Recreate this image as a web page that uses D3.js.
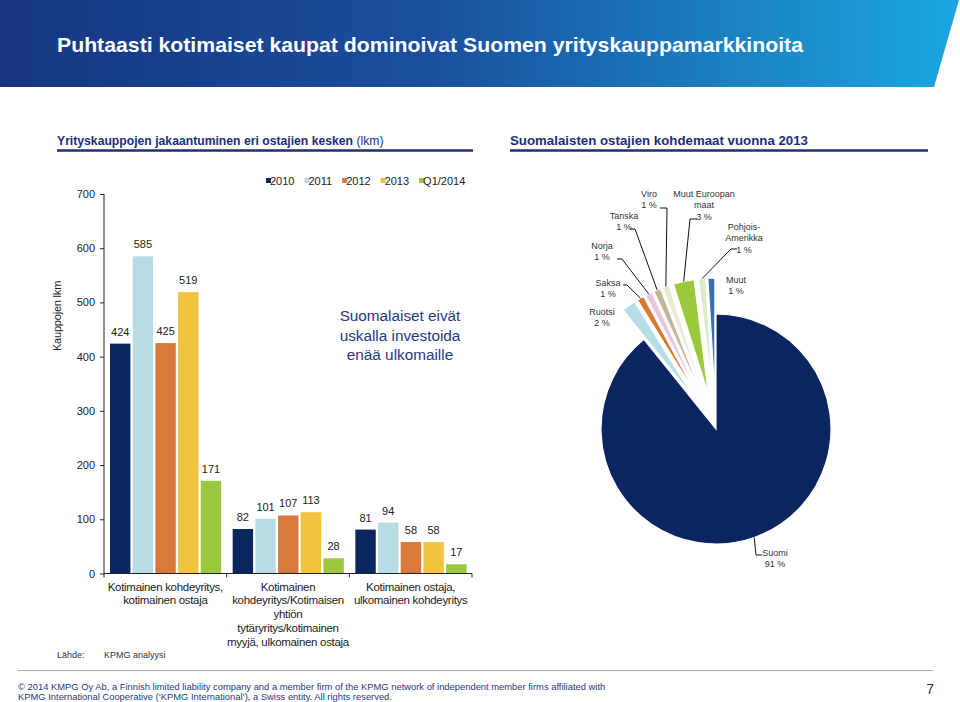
<!DOCTYPE html>
<html>
<head>
<meta charset="utf-8">
<script src="https://cdn.jsdelivr.net/npm/d3@7"></script>
<style>
  html, body { margin: 0; padding: 0; background: #fff; }
  svg { display: block; font-family: "Liberation Sans", Arial, sans-serif; }
</style>
</head>
<body>
<svg id="chart" width="960" height="702"></svg>
<script>
// ---------- DATA ----------
const categories = ["A", "B", "C"];
const categoryLines = [
  ["Kotimainen kohdeyritys,", "kotimainen ostaja"],
  ["Kotimainen", "kohdeyritys/Kotimaisen", "yhtiön", "tytäryritys/kotimainen", "myyjä, ulkomainen ostaja"],
  ["Kotimainen ostaja,", "ulkomainen kohdeyritys"]
];
const seriesNames = ["2010", "2011", "2012", "2013", "Q1/2014"];
const values2010 = [424, 82, 81];
const values2011 = [585, 101, 94];
const values2012 = [425, 107, 58];
const values2013 = [519, 113, 58];
const valuesQ12014 = [171, 28, 17];
const yTicks = [0, 100, 200, 300, 400, 500, 600, 700];

const pieNames = ["Suomi", "Ruotsi", "Saksa", "Norja", "Tanska", "Viro", "Muut Euroopan maat", "Pohjois-Amerikka", "Muut"];
const pieValues = [91, 2, 1, 1, 1, 1, 3, 1, 1];

// ---------- STYLE / LAYOUT ----------
const seriesColors = ["#0b2561", "#b9dce4", "#d97a3c", "#f0c43f", "#9bc83e"];
const pieColors = ["#0b2561", "#b7dde6", "#d9772f", "#e7c4e0", "#c2b497", "#ece8d6", "#9ac93c", "#dcecc8", "#3c6db4"];
const textBlue = "#1c2f7c";

const svg = d3.select("#chart");
const defs = svg.append("defs");
const grad = defs.append("linearGradient").attr("id", "hdr").attr("x1", "0%").attr("x2", "100%").attr("y1", "0%").attr("y2", "0%");
grad.append("stop").attr("offset", "0%").attr("stop-color", "#173680");
grad.append("stop").attr("offset", "45%").attr("stop-color", "#1a4f9d");
grad.append("stop").attr("offset", "100%").attr("stop-color", "#1ba7df");

// Header band
svg.append("path").attr("d", "M0,0 L959,0 L934,87 L0,87 Z").attr("fill", "url(#hdr)");
svg.append("text").attr("x", 57).attr("y", 52)
  .attr("fill", "#fff").attr("font-size", 20.5).attr("font-weight", "bold")
  .attr("textLength", 746).attr("lengthAdjust", "spacingAndGlyphs")
  .text("Puhtaasti kotimaiset kaupat dominoivat Suomen yrityskauppamarkkinoita");

// Section subtitles
const st1 = svg.append("text").attr("x", 57).attr("y", 145).attr("fill", textBlue).attr("font-size", 12.2);
st1.append("tspan").attr("font-weight", "bold").text("Yrityskauppojen jakaantuminen eri ostajien kesken");
st1.append("tspan").text(" (lkm)");
svg.append("line").attr("x1", 57).attr("x2", 473).attr("y1", 150.5).attr("y2", 150.5).attr("stroke", textBlue).attr("stroke-width", 2.5);
svg.append("text").attr("x", 510).attr("y", 145).attr("fill", textBlue).attr("font-size", 13).attr("font-weight", "bold")
  .attr("textLength", 298).attr("lengthAdjust", "spacingAndGlyphs")
  .text("Suomalaisten ostajien kohdemaat vuonna 2013");
svg.append("line").attr("x1", 510).attr("x2", 928).attr("y1", 150.5).attr("y2", 150.5).attr("stroke", textBlue).attr("stroke-width", 2.5);

// ---------- BAR CHART ----------
const seriesValues = [values2010, values2011, values2012, values2013, valuesQ12014];
const y = d3.scaleLinear().domain([0, 700]).range([573.5, 194]);
const x0 = d3.scaleBand().domain(categories).range([104, 472]).paddingInner(0).paddingOuter(0);
const x1 = d3.scaleBand().domain(seriesNames).range([6, x0.bandwidth() - 5.5]).paddingInner(0.1);

const barG = svg.append("g");
categories.forEach((c, ci) => {
  seriesNames.forEach((s, si) => {
    const v = seriesValues[si][ci];
    const bx = x0(c) + x1(s);
    barG.append("rect").attr("x", bx).attr("y", y(v)).attr("width", x1.bandwidth()).attr("height", y(0) - y(v))
      .attr("fill", seriesColors[si]);
    barG.append("text").attr("x", bx + x1.bandwidth() / 2).attr("y", y(v) - 8)
      .attr("text-anchor", "middle").attr("font-size", 11).attr("fill", "#222").text(v);
  });
});

// Y axis
const yAxis = d3.axisLeft(y).tickValues(yTicks).tickSize(4).tickPadding(5);
const yg = svg.append("g").attr("transform", "translate(104,0)").call(yAxis);
yg.select(".domain").attr("stroke", "#222").attr("d", `M0,${y(700)}V${y(0)}`);
yg.selectAll(".tick line").attr("stroke", "#222");
yg.selectAll(".tick text").attr("font-size", 11).attr("fill", "#222").attr("font-family", "Liberation Sans, Arial, sans-serif");

// X axis
const xg = svg.append("g").attr("transform", `translate(0,${y(0)})`);
xg.append("line").attr("x1", 104).attr("x2", 472).attr("stroke", "#222");
[...categories.map(c => x0(c)), 472].forEach(px => {
  xg.append("line").attr("x1", px).attr("x2", px).attr("y1", 0).attr("y2", 4).attr("stroke", "#222");
});
categories.forEach((c, ci) => {
  const t = xg.append("text").attr("text-anchor", "middle").attr("font-size", 11.5).attr("fill", "#222")
    .attr("letter-spacing", "-0.3");
  categoryLines[ci].forEach((ln, li) => {
    t.append("tspan").attr("x", x0(c) + x0.bandwidth() / 2).attr("y", 17 + li * 13.8).text(ln);
  });
});

// Y label
svg.append("text").attr("transform", "translate(61,316) rotate(-90)").attr("text-anchor", "middle")
  .attr("font-size", 11).attr("fill", "#222").attr("letter-spacing", "-0.2").text("Kauppojen lkm");

// Legend
const lg = svg.append("g").attr("transform", "translate(266,181)");
let lx = 0;
seriesNames.forEach((s, i) => {
  lg.append("rect").attr("x", lx).attr("y", -3).attr("width", 5).attr("height", 5).attr("fill", seriesColors[i]);
  const t = lg.append("text").attr("x", lx + 4).attr("y", 4).attr("font-size", 11).attr("fill", "#222").text(s);
  lx += 4 + t.node().getComputedTextLength() + 10;
});

// Annotation
const ann = svg.append("text").attr("text-anchor", "middle").attr("font-size", 15.3).attr("fill", "#1f3a85");
["Suomalaiset eivät", "uskalla investoida", "enää ulkomaille"].forEach((ln, i) => {
  ann.append("tspan").attr("x", 400).attr("y", 321 + i * 19.6).text(ln);
});

// ---------- PIE ----------
const cx = 716, cy = 429, R = 115, explode = 36;
const pie = d3.pie().sort(null).value(d => d)(pieValues);
const arc = d3.arc().innerRadius(0).outerRadius(R);
const edge = d3.arc().innerRadius(R).outerRadius(R);
const pg = svg.append("g").attr("transform", `translate(${cx},${cy})`);
const offsetOf = (d, i) => {
  if (i === 0) return [0, 0];
  const a = (d.startAngle + d.endAngle) / 2;
  return [Math.sin(a) * explode, -Math.cos(a) * explode];
};
pie.forEach((d, i) => {
  const [ox, oy] = offsetOf(d, i);
  pg.append("path").attr("d", arc(d)).attr("transform", `translate(${ox},${oy})`)
    .attr("fill", pieColors[i]).attr("stroke", "#fff").attr("stroke-width", 1.2);
});

// Pie labels (layout positions for label boxes; leader ends are taken from the arcs)
const pieLabelLayout = {
  "Suomi": { x: 775, y: 553, lines: ["Suomi", "91 %"], lead: [[756, 555], [762, 555]], fromSlice: true },
  "Ruotsi": { x: 602, y: 312, lines: ["Ruotsi", "2 %"] },
  "Saksa": { x: 608, y: 283, lines: ["Saksa", "1 %"], lead: [[623, 285], [627, 285]] },
  "Norja": { x: 602, y: 246, lines: ["Norja", "1 %"], lead: [[617, 259], [622, 259]] },
  "Tanska": { x: 624, y: 216, lines: ["Tanska", "1 %"], lead: [[630, 229], [635, 229]] },
  "Viro": { x: 649, y: 194, lines: ["Viro", "1 %"], lead: [[660, 208], [667, 208]] },
  "Muut Euroopan maat": { x: 704, y: 194, lines: ["Muut Euroopan", "maat", "3 %"], lead: [[697, 219], [690, 219]] },
  "Pohjois-Amerikka": { x: 744, y: 227, lines: ["Pohjois-", "Amerikka", "1 %"], lead: [[737, 249], [731, 249]] },
  "Muut": { x: 736, y: 280, lines: ["Muut", "1 %"] }
};
const lineGen = d3.line();
pie.forEach((d, i) => {
  const L = pieLabelLayout[pieNames[i]];
  const t = svg.append("text").attr("text-anchor", "middle").attr("font-size", 9).attr("fill", "#333");
  L.lines.forEach((ln, li) => t.append("tspan").attr("x", L.x).attr("y", L.y + 3 + li * 11.3).text(ln));
  if (L.lead) {
    const [ox, oy] = offsetOf(d, i);
    const c = edge.centroid(d);
    const p = [cx + c[0] + ox, cy + c[1] + oy];
    const pts = L.fromSlice ? [p, ...L.lead] : [...L.lead, p];
    svg.append("path").attr("d", lineGen(pts)).attr("fill", "none").attr("stroke", "#111").attr("stroke-width", 1);
  }
});

// ---------- FOOTER ----------
svg.append("text").attr("x", 57).attr("y", 658).attr("font-size", 9).attr("fill", "#333").text("Lähde:");
svg.append("text").attr("x", 104).attr("y", 658).attr("font-size", 9).attr("fill", "#333").text("KPMG analyysi");
svg.append("line").attr("x1", 18).attr("x2", 933).attr("y1", 670.5).attr("y2", 670.5).attr("stroke", "#aaa").attr("stroke-width", 1);
const ft = svg.append("text").attr("font-size", 9.4).attr("fill", "#1f3a7a");
ft.append("tspan").attr("x", 18).attr("y", 689.5).text("© 2014 KMPG Oy Ab, a Finnish limited liability company and a member firm of the KPMG network of independent member firms affiliated with");
ft.append("tspan").attr("x", 18).attr("y", 700).text("KPMG International Cooperative (‘KPMG International’), a Swiss entity. All rights reserved.");
svg.append("text").attr("x", 934).attr("y", 694).attr("text-anchor", "end").attr("font-size", 14).attr("fill", "#333").text("7");
</script>
</body>
</html>
